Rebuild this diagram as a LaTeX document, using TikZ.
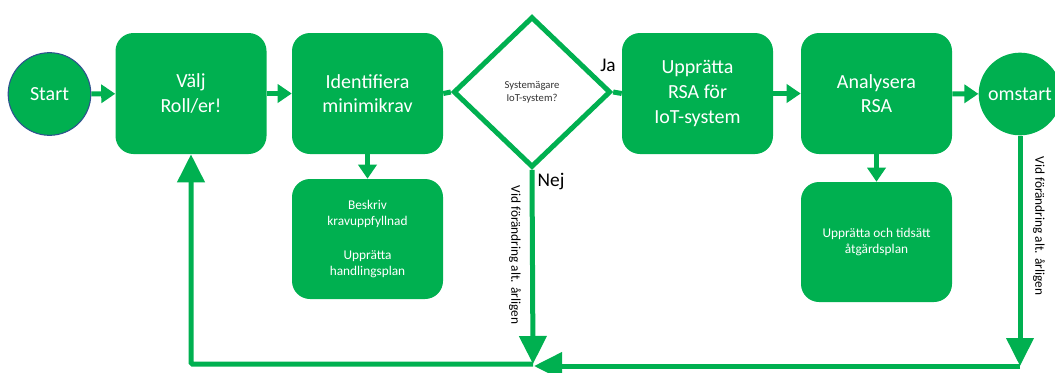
\documentclass[tikz,border=0pt]{standalone}
\usepackage{fontspec}
\setmainfont{Carlito}
\usetikzlibrary{arrows.meta,shapes.geometric}
\definecolor{ogreen}{HTML}{00B050}
\definecolor{oblue}{HTML}{2F528F}
\tikzset{
  box/.style={rectangle, rounded corners=13.5pt, fill=ogreen, text=white, align=center,
    minimum width=113.25pt, minimum height=90.75pt, inner sep=0pt, font=\fontsize{15}{18.5}\selectfont},
  smallbox/.style={box, minimum height=90pt, font=\fontsize{10}{12.5}\selectfont},
  circ/.style={circle, fill=ogreen, text=white, minimum size=62pt, inner sep=0pt, font=\fontsize{15}{18}\selectfont},
  flow/.style={draw=ogreen, line width=3.75pt, -{Triangle[width=13.5pt,length=10.5pt]}},
  bigflow/.style={draw=ogreen, line width=3.75pt, -{Triangle[width=20pt,length=21pt]}},
  plain/.style={draw=ogreen, line width=3.75pt},
  lbl/.style={font=\fontsize{14.5}{17}\selectfont, text=black, inner sep=0pt},
  side/.style={font=\fontsize{10}{12}\selectfont, text=black, rotate=-90, inner sep=0pt}
}
\begin{document}
\begin{tikzpicture}[x=0.75pt,y=-0.75pt]
\useasboundingbox (0,0) rectangle (1055,372);
\node[circ, draw=oblue, line width=0.8pt] (start) at (49.5,94) {Start};
\node[box] (valj) at (191,93.5) {Välj\\Roll/er!};
\node[box] (ident) at (367.5,93.5) {Identifiera\\minimikrav};
\node[diamond, draw=ogreen, line width=3.75pt, fill=white, minimum width=118pt, minimum height=113pt,
      inner sep=0pt, align=center, font=\fontsize{8}{10}\selectfont, text=black!80] (dia) at (532,92) {Systemägare\\IoT-system?};
\node[box] (upp) at (697.5,93.5) {Upprätta\\RSA för\\IoT-system};
\node[box] (ana) at (876.5,93.5) {Analysera\\RSA};
\node[circ] (om) at (1020,94) {omstart};
\node[smallbox] (besk) at (367.5,239) {Beskriv\\kravuppfyllnad\\[12.5pt]Upprätta\\handlingsplan};
\node[smallbox] (atg) at (876.5,242) {Upprätta och tidsätt\\åtgärdsplan};

\node[lbl] (ja) at (608,65) {Ja};
\node[lbl] (nej) at (551,182) {Nej};
\node[side] (v1) at (515,255) {Vid förändring alt. årligen};
\node[side] (v2) at (1039,226) {Vid förändring alt. årligen};

\coordinate (j) at (533,364);
\coordinate (c1) at (1020,366);
\coordinate (j2) at (534,366);

\draw[flow] (start) -- (valj);
\draw[flow] (valj) -- (ident);
\draw[plain] (ident.east) -- (dia.west);
\draw[plain] (dia.east) -- (upp.west);
\draw[flow] (upp) -- (ana);
\draw[flow] (ana) -- (om);
\draw[flow] (ident.south) -- (besk.north);
\draw[flow] (ana.south) -- (atg.north);
\draw[bigflow] (dia.south) -- (j);
\draw[bigflow] (om.south) -- (c1);
\draw[bigflow] (c1) -- (j2);
\draw[bigflow, rounded corners=1pt] (j) -| (valj.south);
\end{tikzpicture}
\end{document}
